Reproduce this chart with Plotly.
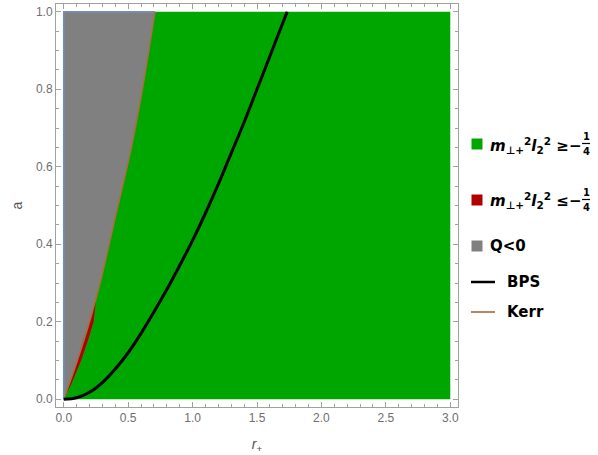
import plotly.graph_objects as go

# ---------------- data ----------------
region_r = [0.0, 3.0]          # r_+ extent of the plotted region
region_a = [0.0, 1.0]          # a extent of the plotted region

# Kerr boundary (edge of the Q<0 region)
kerr_r = [0.0, 0.1, 0.2, 0.287, 0.40, 0.52, 0.61, 0.708]
kerr_a = [0.0, 0.095, 0.2, 0.307, 0.47, 0.643, 0.80, 1.0]

# red sliver (m^2 l^2 <= -1/4): left edge follows Kerr, right edge below
red_left_r = [0.0, 0.042, 0.105, 0.148, 0.2, 0.245]
red_left_a = [0.0, 0.04, 0.10, 0.15, 0.2, 0.255]
red_right_r = [0.0, 0.06, 0.135, 0.186, 0.232, 0.25]
red_right_a = [0.0, 0.04, 0.10, 0.15, 0.20, 0.255]

# BPS curve
bps_r = [0.0, 0.1, 0.2, 0.3, 0.4, 0.5, 0.6, 0.7, 0.8, 0.9, 1.0, 1.1, 1.2,
         1.3, 1.4, 1.5, 1.6, 1.734]
bps_a = [0.0, 0.004, 0.018, 0.043, 0.078, 0.12, 0.17, 0.225, 0.283, 0.345,
         0.41, 0.48, 0.555, 0.635, 0.715, 0.8, 0.885, 1.0]

x_ticks = [0.0, 0.5, 1.0, 1.5, 2.0, 2.5, 3.0]
y_ticks = [0.0, 0.2, 0.4, 0.6, 0.8, 1.0]

legend_labels = ["<b><i>m</i><sub>⊥+</sub><sup>2</sup><i>l</i><sub>2</sub><sup>2</sup> ≥−</b>",
                 "<b><i>m</i><sub>⊥+</sub><sup>2</sup><i>l</i><sub>2</sub><sup>2</sup> ≤−</b>",
                 "<b>Q<0</b>", "<b>BPS</b>", "<b>Kerr</b>"]
frac_num, frac_den = "1", "4"

# ---------------- styles ----------------
GREEN = "#00a600"
RED = "#b00000"
GRAY = "#808080"
KERR_C = "#a8703f"
KERR_LEG = "#b9875f"
EDGE_C = "#7090c4"
FONT = "Liberation Sans"
LFONT = "DejaVu Sans"

W, H = 598, 455
ML, MR, MT, MB = 56, 140, 4, 48
PW, PH = W - ML - MR, H - MT - MB


def px(xp):
    return (xp - ML) / PW


def py(yp):
    return (H - MB - yp) / PH


fig = go.Figure()

fig.add_trace(go.Scatter(
    x=[region_r[0], region_r[1], region_r[1], region_r[0]],
    y=[region_a[0], region_a[0], region_a[1], region_a[1]],
    fill="toself", fillcolor=GREEN, mode="none", hoverinfo="skip",
    showlegend=False))

fig.add_trace(go.Scatter(
    x=kerr_r + [region_r[0]], y=kerr_a + [region_a[1]],
    fill="toself", fillcolor=GRAY, mode="none", hoverinfo="skip",
    showlegend=False))

fig.add_trace(go.Scatter(
    x=red_left_r + red_right_r[::-1], y=red_left_a + red_right_a[::-1],
    fill="toself", fillcolor=RED, mode="none", hoverinfo="skip",
    showlegend=False))

fig.add_trace(go.Scatter(
    x=kerr_r, y=kerr_a, mode="lines",
    line=dict(color=KERR_C, width=1.6, shape="spline"), showlegend=False))

fig.add_trace(go.Scatter(
    x=[region_r[0], region_r[0], kerr_r[-1]],
    y=[region_a[0], region_a[1], region_a[1]], mode="lines",
    line=dict(color=EDGE_C, width=1.6), showlegend=False))

fig.add_trace(go.Scatter(
    x=bps_r, y=bps_a, mode="lines",
    line=dict(color="black", width=3, shape="spline"), showlegend=False))

axis_common = dict(
    showgrid=False, zeroline=False, showline=True, linecolor="#a0a0a0",
    linewidth=1, mirror="ticks", ticks="inside", ticklen=5, tickwidth=1,
    tickcolor="#a0a0a0", tickformat=".1f",
    tickfont=dict(family=FONT, size=12, color="#6e6e6e"),
)

fig.update_xaxes(
    range=[-0.06, 3.06], tickvals=x_ticks,
    minor=dict(dtick=0.1, tick0=0, ticks="inside", ticklen=3,
               tickcolor="#a0a0a0"),
    title=dict(text="<i>r</i><sub>+</sub>", standoff=14,
               font=dict(family=FONT, size=14, color="#555555")),
    **axis_common)
fig.update_yaxes(
    range=[-0.02, 1.02], tickvals=y_ticks,
    minor=dict(dtick=0.05, tick0=0, ticks="inside", ticklen=3,
               tickcolor="#a0a0a0"),
    title=dict(text="a", standoff=10,
               font=dict(family=FONT, size=14, color="#555555")),
    **axis_common)

# ---------------- legend (drawn by hand) ----------------
shapes = []
annotations = []
sq = 5.5
for yc, col in [(144, GREEN), (200, RED), (246, GRAY)]:
    shapes.append(dict(type="rect", xref="paper", yref="paper",
                       x0=px(477 - sq), x1=px(477 + sq),
                       y0=py(yc + sq), y1=py(yc - sq),
                       fillcolor=col, line=dict(width=0)))
for yc, col, wd in [(282, "black", 2.5), (312, KERR_LEG, 2)]:
    shapes.append(dict(type="line", xref="paper", yref="paper",
                       x0=px(471), x1=px(495), y0=py(yc), y1=py(yc),
                       line=dict(color=col, width=wd)))

rows = [(488, 145), (488, 201), (488, 246), (505, 282), (505, 312)]
for (xl, yc), lab in zip(rows, legend_labels):
    annotations.append(dict(xref="paper", yref="paper", x=px(xl), y=py(yc),
                            xanchor="left", yanchor="middle", text=lab,
                            showarrow=False,
                            font=dict(family=LFONT, size=15, color="black")))

for yc in (143.5, 199.5):
    annotations.append(dict(xref="paper", yref="paper", x=px(586), y=py(yc - 7),
                            xanchor="center", yanchor="middle",
                            text="<b>" + frac_num + "</b>", showarrow=False,
                            font=dict(family=LFONT, size=10, color="black")))
    annotations.append(dict(xref="paper", yref="paper", x=px(586), y=py(yc + 8),
                            xanchor="center", yanchor="middle",
                            text="<b>" + frac_den + "</b>", showarrow=False,
                            font=dict(family=LFONT, size=10, color="black")))
    shapes.append(dict(type="line", xref="paper", yref="paper",
                       x0=px(582), x1=px(590), y0=py(yc), y1=py(yc),
                       line=dict(color="black", width=1.2)))

fig.update_layout(
    width=W, height=H,
    margin=dict(l=ML, r=MR, t=MT, b=MB, autoexpand=False),
    paper_bgcolor="white", plot_bgcolor="white",
    showlegend=False, shapes=shapes, annotations=annotations,
    font=dict(family=FONT),
)

fig.write_html("out.html", config={"displayModeBar": False},
               post_script="document.body.style.margin='0';"
                           "document.body.style.overflow='hidden';")
